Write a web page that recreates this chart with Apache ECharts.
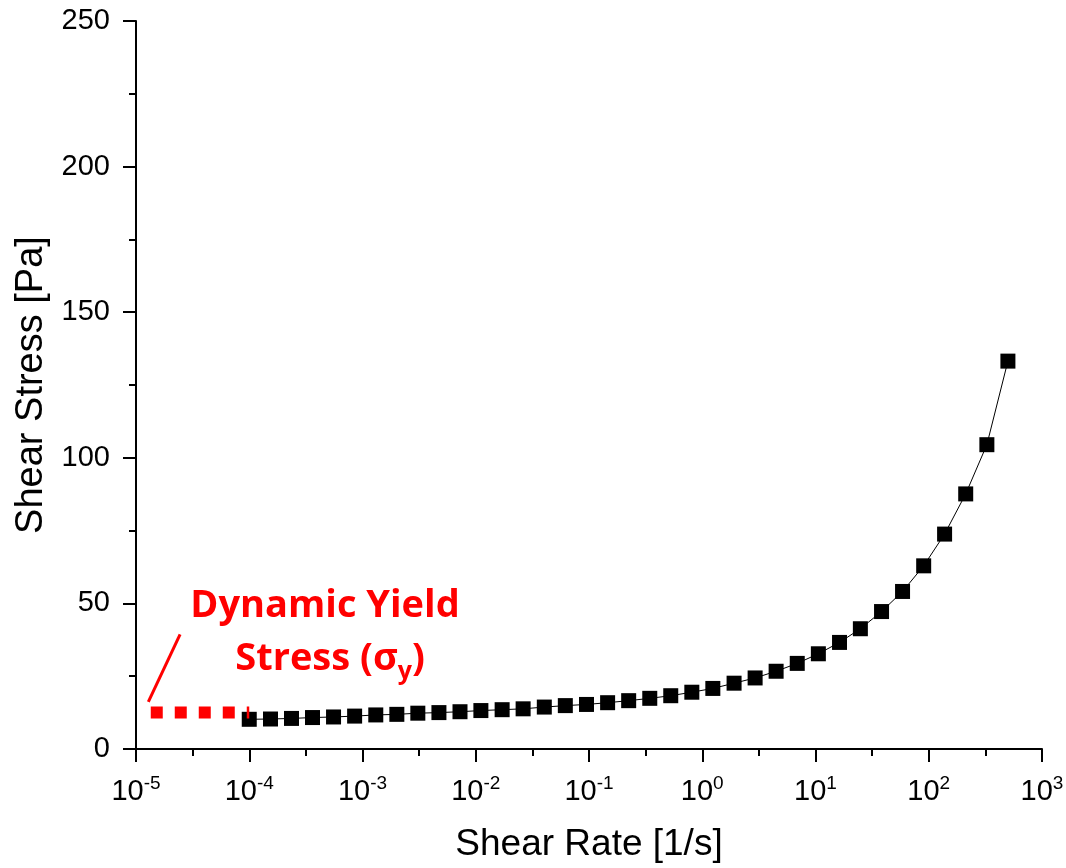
<!DOCTYPE html>
<html>
<head>
<meta charset="utf-8">
<script src="https://cdn.jsdelivr.net/npm/echarts@6/dist/echarts.min.js"></script>
<style>
  html, body { margin: 0; padding: 0; background: #fff; }
  #chart { width: 1066px; height: 868px; }
</style>
</head>
<body>
<div id="chart"></div>
<script>
// Flow curve: shear stress vs. shear rate (log scale)
const shearRate = [
  1.00e-4, 1.54e-4, 2.36e-4, 3.62e-4, 5.55e-4, 8.52e-4,
  1.31e-3, 2.01e-3, 3.08e-3, 4.73e-3, 7.26e-3,
  0.0111, 0.0171, 0.0262, 0.0403, 0.0618, 0.0950,
  0.146, 0.224, 0.344, 0.527, 0.809,
  1.24, 1.91, 2.93, 4.49, 6.90,
  10.6, 16.3, 24.9, 38.3, 58.7, 90.2,
  138, 212, 326, 500
];
const shearStress = [
  10.2, 10.3, 10.5, 10.8, 11.0, 11.3,
  11.7, 11.9, 12.3, 12.5, 12.8,
  13.2, 13.5, 13.8, 14.4, 14.9, 15.3,
  15.9, 16.6, 17.4, 18.3, 19.5,
  20.8, 22.6, 24.4, 26.7, 29.4,
  32.7, 36.6, 41.3, 47.2, 54.1, 62.9,
  73.8, 87.6, 104.5, 133.2
];

// Extrapolated plateau (dynamic yield stress) and its pointer
const yieldRate = [1.35e-5, 1.0e-4];
const yieldStress = [12.5, 12.5];
const pointerRate = [1.285e-5, 2.45e-5];
const pointerStress = [16.2, 39.4];

const yTicks = [0, 50, 100, 150, 200, 250];

const FONT = '"Liberation Sans", Arial, sans-serif';

const chart = echarts.init(document.getElementById('chart'), null, { renderer: 'canvas' });

const pairs = (xs, ys) => xs.map((x, i) => [x, ys[i]]);

chart.setOption({
  animation: false,
  backgroundColor: '#ffffff',
  grid: {
    left: 136, right: 24, top: 21, bottom: 119,
    outerBoundsMode: 'none',
    containLabel: false
  },
  xAxis: [
    {
      type: 'log',
      logBase: 10,
      min: 1e-5,
      max: 1e3,
      splitNumber: 8,
      position: 'bottom',
      name: 'Shear Rate [1/s]',
      nameLocation: 'middle',
      nameGap: 77,
      nameTextStyle: { fontFamily: FONT, fontSize: 37, color: '#000' },
      axisLine: { show: true, onZero: false, lineStyle: { color: '#000', width: 2 } },
      axisTick: { show: true, length: 13, lineStyle: { color: '#000', width: 2 } },
      splitLine: { show: false },
      axisLabel: {
        margin: 25,
        formatter: function (v) {
          const e = Math.round(Math.log10(v));
          return '{b|10}{s|' + e + '}';
        },
        rich: {
          b: { fontFamily: FONT, fontSize: 29, color: '#000', lineHeight: 32, verticalAlign: 'bottom' },
          s: { fontFamily: FONT, fontSize: 19, color: '#000', lineHeight: 16, verticalAlign: 'top' }
        }
      }
    },
    {
      // half-decade minor ticks
      type: 'value',
      min: -5,
      max: 3,
      interval: 0.5,
      position: 'bottom',
      axisLine: { show: false },
      axisTick: { show: true, length: 7, lineStyle: { color: '#000', width: 2 } },
      axisLabel: { show: false },
      splitLine: { show: false }
    }
  ],
  yAxis: {
    type: 'value',
    min: yTicks[0],
    max: yTicks[yTicks.length - 1],
    interval: 50,
    name: 'Shear Stress [Pa]',
    nameLocation: 'middle',
    nameGap: 79,
    nameTextStyle: { fontFamily: FONT, fontSize: 38, color: '#000' },
    axisLine: { show: true, onZero: false, lineStyle: { color: '#000', width: 2 } },
    axisTick: { show: true, length: 13, lineStyle: { color: '#000', width: 2 } },
    minorTick: { show: true, splitNumber: 2, length: 7, lineStyle: { color: '#000', width: 2 } },
    splitLine: { show: false },
    minorSplitLine: { show: false },
    axisLabel: { margin: 26, fontFamily: FONT, fontSize: 29, color: '#000' }
  },
  series: [
    {
      name: 'Shear Stress',
      type: 'line',
      xAxisIndex: 0,
      data: pairs(shearRate, shearStress),
      symbol: 'rect',
      symbolSize: 15,
      itemStyle: { color: '#000' },
      lineStyle: { color: '#000', width: 1 },
      emphasis: { disabled: true },
      z: 2
    },
    {
      name: 'Yield plateau',
      type: 'line',
      xAxisIndex: 0,
      data: pairs(yieldRate, yieldStress),
      symbol: 'none',
      lineStyle: { color: '#ff0000', width: 12, type: [12, 12], cap: 'butt' },
      emphasis: { disabled: true },
      z: 3
    },
    {
      name: 'Pointer',
      type: 'line',
      xAxisIndex: 0,
      data: pairs(pointerRate, pointerStress),
      symbol: 'none',
      lineStyle: { color: '#ff0000', width: 3 },
      emphasis: { disabled: true },
      z: 3
    }
  ],
  graphic: [
    {
      type: 'text',
      x: 325,
      y: 606,
      style: {
        text: 'Dynamic Yield',
        fill: '#ff0000',
        font: 'bold 38px "Open Sans", sans-serif',
        textAlign: 'center',
        textVerticalAlign: 'middle'
      },
      z: 10
    },
    {
      type: 'text',
      x: 330,
      y: 662,
      style: {
        text: '{a|Stress (σ}{sub|y}{a|)}',
        textAlign: 'center',
        textVerticalAlign: 'middle',
        rich: {
          a: { fill: '#ff0000', font: 'bold 38px "Open Sans", sans-serif', lineHeight: 44, verticalAlign: 'top' },
          sub: { fill: '#ff0000', font: 'bold 25px "Open Sans", sans-serif', lineHeight: 6, verticalAlign: 'bottom' }
        }
      },
      z: 10
    }
  ]
});
</script>
</body>
</html>
